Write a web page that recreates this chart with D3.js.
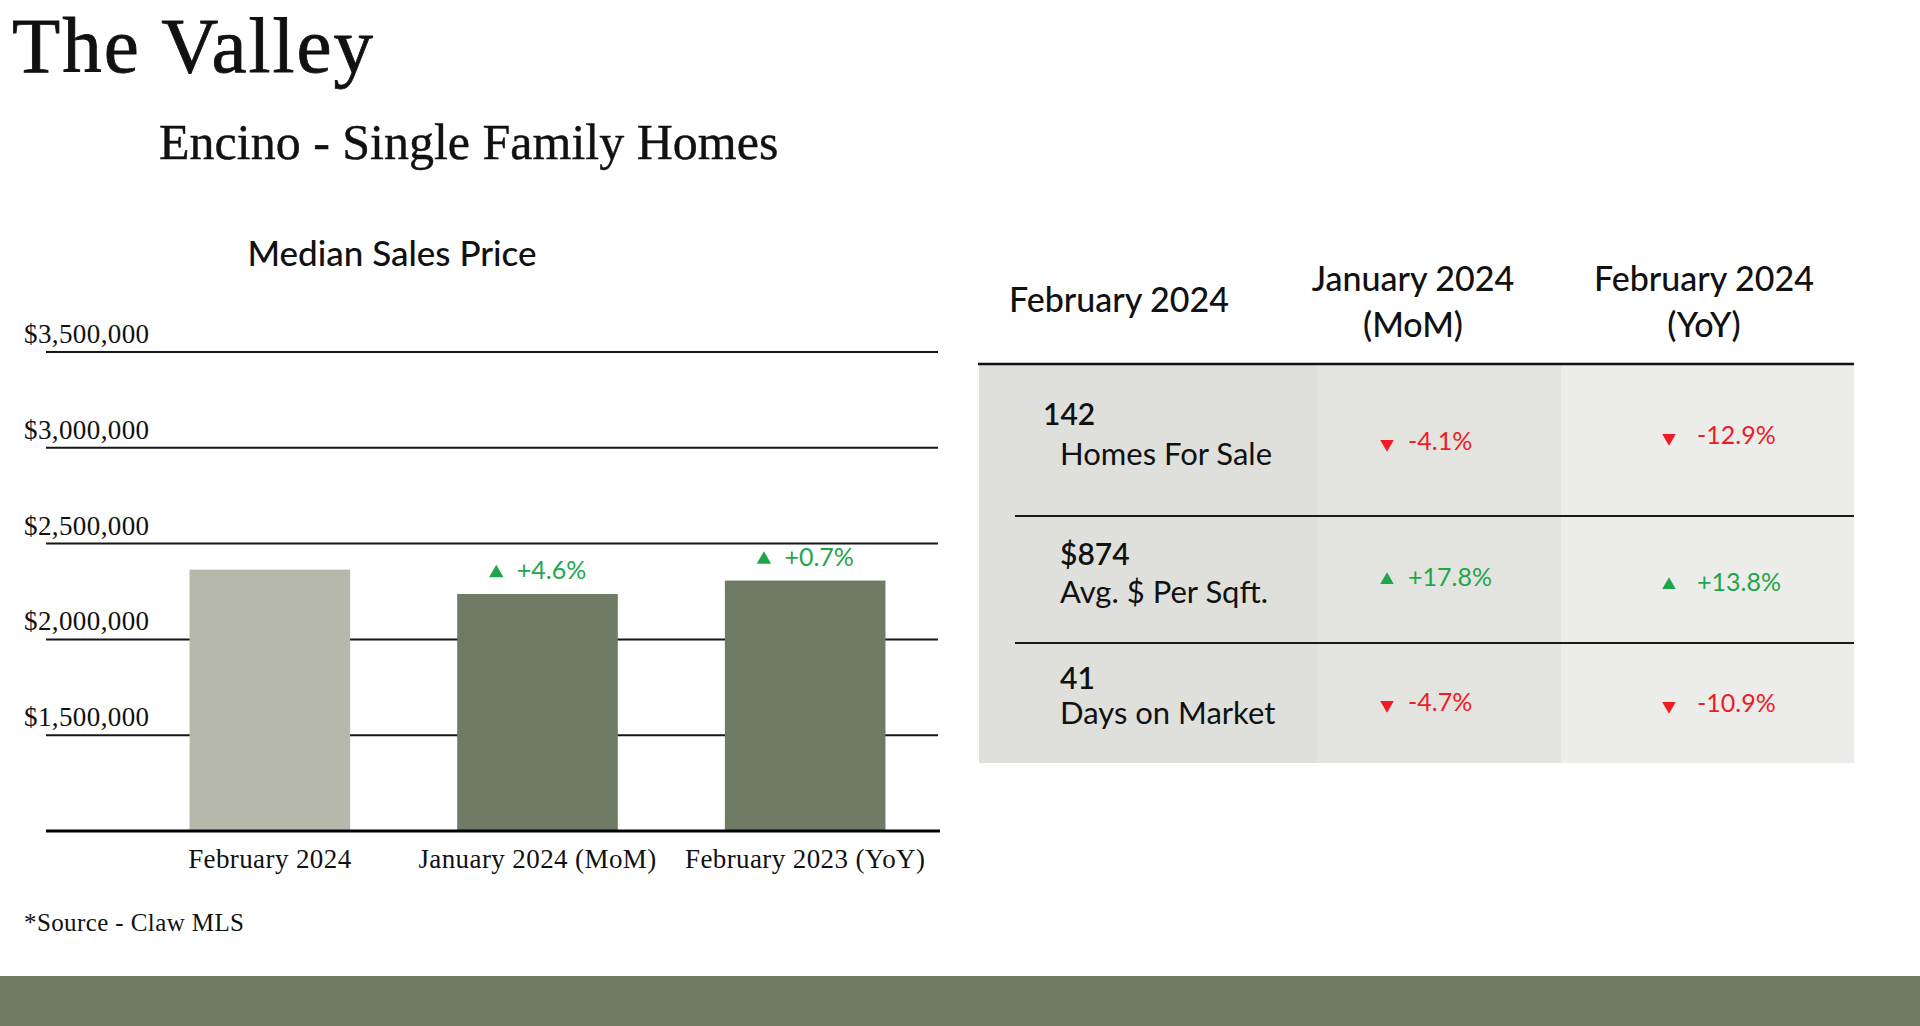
<!DOCTYPE html>
<html>
<head>
<meta charset="utf-8">
<script src="https://cdn.jsdelivr.net/npm/d3@7"></script>
<style>
    body { margin: 0; background: #ffffff; }
    svg { display: block; }
    .serif { font-family: "Liberation Serif", "DejaVu Serif", serif; fill: #111111; }
    .sans { font-family: "Lato", "Noto Sans", sans-serif; fill: #111111; }
</style>
</head>
<body>
<div id="chart_div"></div>
<script>

// bar chart data
var barCategories = ["February 2024", "January 2024 (MoM)", "February 2023 (YoY)"];
var barValues = [2364000, 2237000, 2307000];
var barChanges = [null, "+4.6%", "+0.7%"];
var yTicks = [1500000, 2000000, 2500000, 3000000, 3500000];

// table data
var tableHeaders = [["February 2024"], ["January 2024", "(MoM)"], ["February 2024", "(YoY)"]];
var metricValues = ["142", "$874", "41"];
var metricLabels = ["Homes For Sale", "Avg. $ Per Sqft.", "Days on Market"];
var momChanges = [-4.1, 17.8, -4.7];
var yoyChanges = [-12.9, 13.8, -10.9];

var GREEN = "#1fa64a",
    RED = "#ee1c24",
    DARK_BAR = "#6f7b65",
    LIGHT_BAR = "#b6b8ab";

var svg = d3.select("#chart_div").append("svg")
    .attr("width", 1920)
    .attr("height", 1026);

svg.append("rect")
    .attr("width", 1920)
    .attr("height", 1026)
    .attr("fill", "#ffffff");

// titles
svg.append("text")
    .attr("class", "serif")
    .attr("x", 12)
    .attr("y", 72)
    .style("font-size", "79px")
    .style("letter-spacing", "2px")
    .style("stroke", "#111111")
    .style("stroke-width", "0.8px")
    .text("The Valley");

svg.append("text")
    .attr("class", "serif")
    .attr("x", 159)
    .attr("y", 159)
    .style("font-size", "50px")
    .style("stroke", "#111111")
    .style("stroke-width", "0.4px")
    .text("Encino - Single Family Homes");

svg.append("text")
    .attr("class", "sans")
    .attr("x", 392)
    .attr("y", 266)
    .attr("text-anchor", "middle")
    .style("font-size", "35px")
    .style("font-weight", 500)
    .text("Median Sales Price");

// ---- bar chart ----
var y = d3.scaleLinear()
    .domain([1000000, 3500000])
    .range([831, 352]);

var x = d3.scaleBand()
    .domain(barCategories)
    .range([136, 939])
    .paddingInner(0.4)
    .paddingOuter(0.2);

var fmtMoney = d3.format("$,");

var grid = svg.append("g");

grid.selectAll(".grid")
    .data(yTicks)
    .enter().append("line")
    .attr("class", "grid")
    .attr("x1", 46)
    .attr("x2", 938)
    .attr("y1", function (d) { return y(d); })
    .attr("y2", function (d) { return y(d); })
    .attr("stroke", "#161616")
    .attr("stroke-width", 2);

grid.selectAll(".ylabel")
    .data(yTicks)
    .enter().append("text")
    .attr("class", "serif ylabel")
    .attr("x", 24)
    .attr("y", function (d) { return y(d) - 9; })
    .style("font-size", "27px")
    .style("letter-spacing", "0.4px")
    .text(function (d) { return fmtMoney(d); });

svg.selectAll(".bar")
    .data(barValues)
    .enter().append("rect")
    .attr("class", "bar")
    .attr("x", function (d, i) { return x(barCategories[i]); })
    .attr("width", x.bandwidth())
    .attr("y", function (d) { return y(d); })
    .attr("height", function (d) { return y(1000000) - y(d); })
    .attr("fill", function (d, i) { return i === 0 ? LIGHT_BAR : DARK_BAR; });

// baseline
svg.append("line")
    .attr("x1", 46)
    .attr("x2", 940)
    .attr("y1", y(1000000))
    .attr("y2", y(1000000))
    .attr("stroke", "#000000")
    .attr("stroke-width", 3);

// category labels
var xAxis = svg.append("g")
    .attr("transform", "translate(0," + y(1000000) + ")")
    .call(d3.axisBottom(x).tickSize(0).tickPadding(37));
xAxis.select(".domain").remove();
xAxis.selectAll("text")
    .attr("class", "serif")
    .attr("dy", 0)
    .style("font-size", "27px")
    .style("letter-spacing", "0.4px")
    .attr("fill", "#111111");

// change annotations above bars
var ann = svg.selectAll(".ann")
    .data(barValues)
    .enter().append("g")
    .attr("class", "ann")
    .filter(function (d, i) { return barChanges[i] !== null; });

ann.each(function (d) {
    var i = barValues.indexOf(d);
    var g = d3.select(this);
    var t = g.append("text")
        .attr("class", "sans")
        .style("fill", GREEN)
        .style("font-size", "25px")
        .attr("y", y(d) - 15)
        .text(barChanges[i]);
    var w = t.node().getComputedTextLength();
    var total = 15 + 13 + w;
    var left = x(barCategories[i]) + x.bandwidth() / 2 - total / 2;
    t.attr("x", left + 28);
    g.append("path")
        .attr("d", d3.symbol(d3.symbolTriangle, 90)())
        .attr("transform", "translate(" + (left + 7.5) + "," + (y(d) - 21) + ")")
        .attr("fill", GREEN);
});

svg.append("text")
    .attr("class", "serif")
    .attr("x", 24)
    .attr("y", 931)
    .style("font-size", "25px")
    .style("letter-spacing", "0.4px")
    .text("*Source - Claw MLS");

// ---- table ----
var colEdges = [979, 1317, 1561, 1854];
var colFills = ["#dfe0dc", "#e3e4e0", "#ececea"];
var headerCenters = [1119, 1413, 1704];
var headerLineY = 364;
var tableBottom = 763;
var rowLines = [516, 643];
var rowValueY = [425, 565, 689];
var rowLabelY = [465, 603, 724];
var momY = [450, 586, 711];
var yoyY = [444, 591, 712];
var valueX = [1043, 1060, 1060];

var table = svg.append("g");

table.selectAll(".colbg")
    .data(colFills)
    .enter().append("rect")
    .attr("class", "colbg")
    .attr("x", function (d, i) { return colEdges[i]; })
    .attr("width", function (d, i) { return colEdges[i + 1] - colEdges[i]; })
    .attr("y", headerLineY)
    .attr("height", tableBottom - headerLineY)
    .attr("fill", function (d) { return d; });

table.selectAll(".header")
    .data(tableHeaders)
    .enter().append("text")
    .attr("class", "sans header")
    .attr("text-anchor", "middle")
    .attr("x", function (d, i) { return headerCenters[i]; })
    .attr("y", function (d) { return d.length === 1 ? 312 : 291; })
    .style("font-size", "34px")
    .style("font-weight", 500)
    .each(function (d, i) {
        var el = d3.select(this);
        d.forEach(function (line, k) {
            el.append("tspan")
                .attr("x", headerCenters[i])
                .attr("dy", k === 0 ? 0 : 46)
                .text(line);
        });
    });

table.append("line")
    .attr("x1", 978)
    .attr("x2", 1854)
    .attr("y1", headerLineY)
    .attr("y2", headerLineY)
    .attr("stroke", "#111111")
    .attr("stroke-width", 2.5);

table.selectAll(".rowline")
    .data(rowLines)
    .enter().append("line")
    .attr("class", "rowline")
    .attr("x1", 1015)
    .attr("x2", 1854)
    .attr("y1", function (d) { return d; })
    .attr("y2", function (d) { return d; })
    .attr("stroke", "#1a1a1a")
    .attr("stroke-width", 1.8);

table.selectAll(".mvalue")
    .data(metricValues)
    .enter().append("text")
    .attr("class", "sans mvalue")
    .attr("x", function (d, i) { return valueX[i]; })
    .attr("y", function (d, i) { return rowValueY[i]; })
    .style("font-size", "30px")
    .style("font-weight", 600)
    .text(function (d) { return d; });

table.selectAll(".mlabel")
    .data(metricLabels)
    .enter().append("text")
    .attr("class", "sans mlabel")
    .attr("x", 1060)
    .attr("y", function (d, i) { return rowLabelY[i]; })
    .style("font-size", "31px")
    .text(function (d) { return d; });

function fmtChange(v) {
    return (v > 0 ? "+" : "") + v.toFixed(1) + "%";
}

function drawChanges(values, ys, triX, textX, cls) {
    var g = table.selectAll("." + cls)
        .data(values)
        .enter().append("g")
        .attr("class", cls);

    g.append("path")
        .attr("d", d3.symbol(d3.symbolTriangle, 80)())
        .attr("transform", function (d, i) {
            return "translate(" + triX + "," + (ys[i] - 6) + ")" + (d < 0 ? " rotate(180)" : "");
        })
        .attr("fill", function (d) { return d < 0 ? RED : GREEN; });

    g.append("text")
        .attr("class", "sans")
        .attr("x", textX)
        .attr("y", function (d, i) { return ys[i]; })
        .style("font-size", "25px")
        .style("fill", function (d) { return d < 0 ? RED : GREEN; })
        .text(function (d) { return fmtChange(d); });
}

drawChanges(momChanges, momY, 1387, 1408, "mom");
drawChanges(yoyChanges, yoyY, 1669, 1697, "yoy");

// footer band
svg.append("rect")
    .attr("x", 0)
    .attr("y", 976)
    .attr("width", 1920)
    .attr("height", 50)
    .attr("fill", DARK_BAR);

</script>
</body>
</html>
